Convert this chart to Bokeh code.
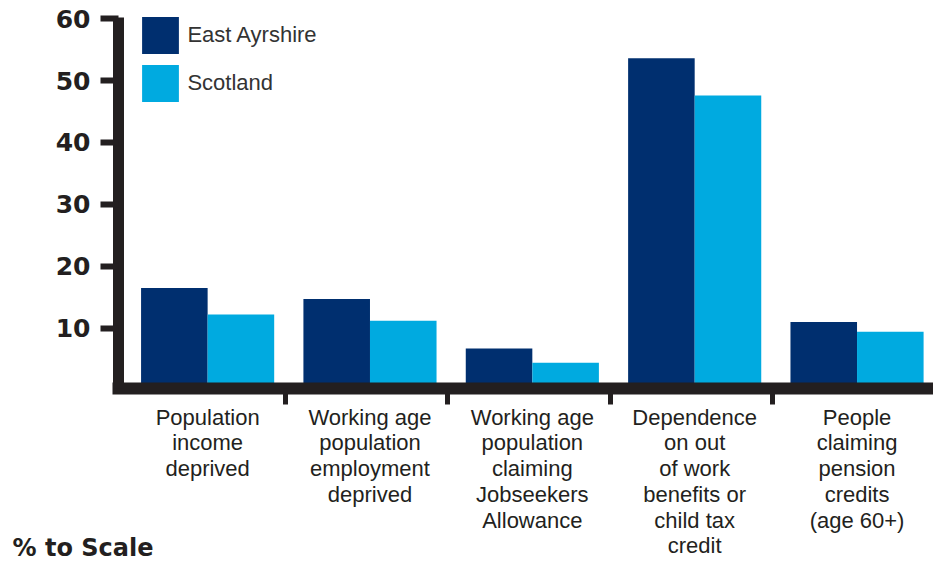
from bokeh.plotting import figure
from bokeh.models import Range1d, FixedTicker, Legend, LegendItem, Title
from bokeh.embed import file_html
from bokeh.resources import INLINE

# ---- data ----
categories = [
    "Population\nincome\ndeprived",
    "Working age\npopulation\nemployment\ndeprived",
    "Working age\npopulation\nclaiming\nJobseekers\nAllowance",
    "Dependence\non out\nof work\nbenefits or\nchild tax\ncredit",
    "People\nclaiming\npension\ncredits\n(age 60+)",
]
series_names = ["East Ayrshire", "Scotland"]
east_ayrshire = [16.5, 14.7, 6.7, 53.6, 11.0]
scotland = [12.2, 11.2, 4.4, 47.6, 9.4]
y_ticks = [10, 20, 30, 40, 50, 60]
scale_note = "% to Scale"

INK = "#231f20"
NAVY = "#002f6f"
CYAN = "#00aae0"

xs = list(range(len(categories)))
bw = 0.41

p = figure(width=933, height=561, output_backend="svg", toolbar_location=None,
           x_range=Range1d(-0.549, 4.471), y_range=Range1d(0.24, 60.2),
           min_border_left=118, min_border_right=0, min_border_top=17,
           min_border_bottom=172)
p.outline_line_color = None
p.grid.grid_line_color = None
p.background_fill_color = "white"
p.border_fill_color = "white"

r1 = p.vbar(x=[x - bw / 2 for x in xs], top=east_ayrshire, bottom=0, width=bw,
            fill_color=NAVY, line_color=None)
r2 = p.vbar(x=[x + bw / 2 for x in xs], top=scotland, bottom=0, width=bw,
            fill_color=CYAN, line_color=None)

# y axis
ya = p.yaxis[0]
ya.ticker = FixedTicker(ticks=y_ticks, minor_ticks=[])
ya.axis_line_width = 11
ya.axis_line_color = INK
ya.major_tick_out = 18
ya.major_tick_in = 0
ya.major_tick_line_width = 6
ya.major_tick_line_color = INK
ya.minor_tick_line_color = None
ya.major_label_standoff = 10
ya.major_label_text_font = "DejaVu Sans"
ya.major_label_text_font_style = "bold"
ya.major_label_text_font_size = "25px"
ya.major_label_text_color = INK

# x axis
xa = p.xaxis[0]
xa.ticker = FixedTicker(ticks=xs, minor_ticks=[x + 0.48 for x in xs[:-1]])
xa.major_label_overrides = {x: c for x, c in zip(xs, categories)}
xa.axis_line_width = 12
xa.axis_line_color = INK
xa.axis_line_cap = "square"
xa.major_tick_line_color = None
xa.major_tick_out = 0
xa.major_tick_in = 0
xa.minor_tick_out = 16
xa.minor_tick_in = 0
xa.minor_tick_line_width = 5
xa.minor_tick_line_color = INK
xa.major_label_standoff = 0
xa.major_label_text_font = "Liberation Sans"
xa.major_label_text_font_size = "22px"
xa.major_label_text_color = INK
xa.major_label_text_line_height = 1.03

legend = Legend(items=[LegendItem(label=series_names[0], renderers=[r1]),
                       LegendItem(label=series_names[1], renderers=[r2])],
                location=(19.4, 282), orientation="vertical",
                glyph_width=46, glyph_height=46, spacing=2, padding=0, margin=0,
                label_standoff=4, label_text_font="Liberation Sans",
                label_text_font_size="22px", label_text_color="#333333",
                background_fill_alpha=0, border_line_color=None)
p.add_layout(legend)

# note under the chart, bottom-left
note = Title(text=scale_note, align="left", vertical_align="top",
             offset=-106, standoff=-56,
             text_font="DejaVu Sans", text_font_style="bold", text_font_size="24px",
             text_color=INK)
p.add_layout(note, "below")

open("out.html", "w").write(file_html(p, INLINE))
